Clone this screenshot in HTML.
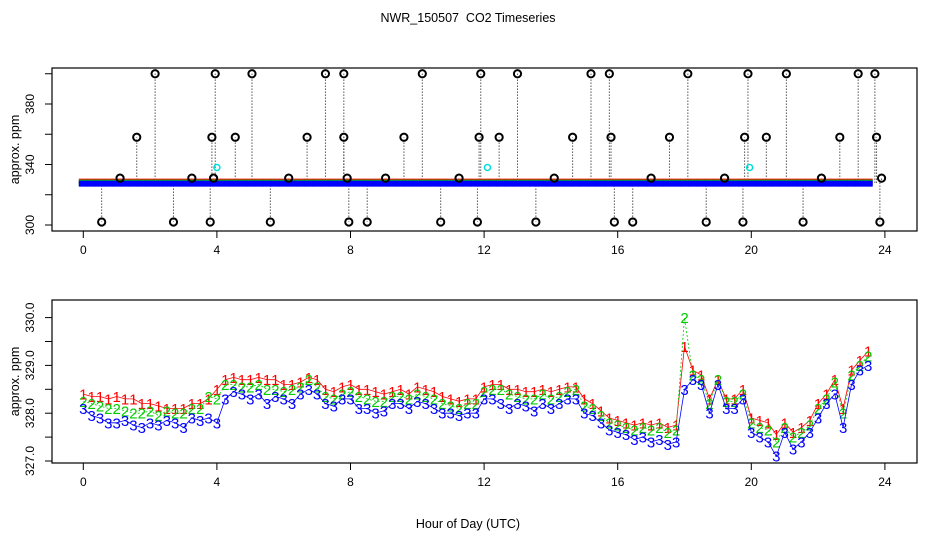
<!DOCTYPE html>
<html><head><meta charset="utf-8"><style>
body{margin:0;background:#fff}
svg{display:block;font-family:"Liberation Sans",sans-serif}
</style></head><body>
<svg id="c" width="936" height="540" xmlns="http://www.w3.org/2000/svg">
<text x="468" y="22" text-anchor="middle" font-size="12.5" style="white-space:pre">NWR_150507  CO2 Timeseries</text>
<text x="468" y="528" text-anchor="middle" font-size="12.5">Hour of Day (UTC)</text>
<g id="topPanel"></g>
<g id="botPanel"></g>
</svg>
<script>
const xTicks=[0,4,8,12,16,20,24];
const topYTickVals=[300,320,340,360,380,400];
const topYLabels=[300,340,380];
const botYTicks=[327,327.5,328,328.5,329,329.5,330];
const botYLabels=["327.0","328.0","329.0","330.0"];
const hours=[];for(let i=0;i<96;i++)hours.push(i*0.25);
const s3=[328.1,327.95,327.9,327.8,327.8,327.85,327.75,327.7,327.8,327.75,327.85,327.8,327.7,327.9,327.85,327.9,
327.8,328.3,328.45,328.4,328.3,328.4,328.2,328.35,328.3,328.2,328.4,328.5,328.4,328.2,328.15,328.3,
328.3,328.1,328.1,328.0,328.05,328.2,328.2,328.1,328.25,328.2,328.1,328.0,328.0,327.95,328.0,328.0,
328.3,328.3,328.2,328.1,328.2,328.15,328.05,328.2,328.1,328.2,328.3,328.3,328.0,327.95,327.8,327.65,
327.6,327.55,327.45,327.5,327.4,327.45,327.35,327.4,328.5,328.7,328.6,328.0,328.6,328.1,328.1,328.3,
327.6,327.5,327.4,327.1,327.6,327.25,327.4,327.6,327.9,328.2,328.4,327.7,328.6,328.9,329.0,null];
const s1=[328.4,328.35,328.35,328.3,328.35,328.3,328.3,328.2,328.2,328.15,328.1,328.1,328.1,328.2,328.2,328.3,
328.5,328.7,328.75,328.7,328.7,328.75,328.7,328.7,328.6,328.6,328.65,328.75,328.7,328.5,328.45,328.55,
328.6,328.5,328.5,328.45,328.4,328.45,328.5,328.4,328.55,328.5,328.45,328.35,328.3,328.25,328.3,328.3,
328.55,328.6,328.6,328.5,328.5,328.45,328.45,328.5,328.45,328.5,328.55,328.55,328.3,328.2,328.05,327.9,
327.85,327.8,327.75,327.8,327.75,327.8,327.7,327.75,329.4,328.9,328.8,328.3,328.7,328.3,328.3,328.5,
327.9,327.85,327.8,327.55,327.8,327.6,327.7,327.85,328.2,328.4,328.7,328.1,328.9,329.1,329.3,null];
const s2=[328.25,328.2,328.15,328.1,328.1,328.05,328.0,328.0,328.05,327.95,328.05,328.0,328.0,328.1,328.1,328.35,
328.3,328.6,328.6,328.55,328.55,328.6,328.5,328.5,328.45,328.5,328.55,328.7,328.55,328.35,328.3,328.4,
328.45,328.35,328.3,328.25,328.25,328.35,328.35,328.3,328.4,328.35,328.3,328.2,328.15,328.1,328.2,328.2,
328.45,328.5,328.5,328.4,328.35,328.3,328.3,328.4,328.3,328.35,328.45,328.5,328.15,328.1,327.95,327.8,
327.75,327.7,327.65,327.7,327.65,327.7,327.6,327.65,330.0,328.8,328.7,328.2,328.7,328.25,328.25,328.4,
327.8,327.7,327.65,327.4,327.7,327.5,327.6,327.75,328.1,328.3,328.65,328.0,328.8,329.0,329.2,null];
const spikeHours=[0.55,1.1,1.6,2.15,2.7,3.25,3.8,3.85,3.9,3.95,4.55,5.05,5.6,6.15,6.7,7.25,7.8,7.8,7.9,7.95,8.5,9.05,9.6,10.15,10.7,11.25,11.8,11.85,11.9,12.45,13.0,13.55,14.1,14.65,15.2,15.75,15.8,15.9,16.45,17.0,17.55,18.1,18.65,19.2,19.75,19.8,19.9,20.45,21.05,21.55,22.1,22.65,23.2,23.7,23.75,23.85,23.9];
const spikeVals=[302,331,358,400,302,331,302,358,331,400,358,400,302,331,358,400,400,358,331,302,302,331,358,400,302,331,302,358,400,358,400,302,331,358,400,400,358,302,302,331,358,400,302,331,302,358,400,358,400,302,331,358,400,400,358,302,331];
const cyanHours=[4.0,12.1,19.95];
const cyanVals=[338,338,338];

const NS="http://www.w3.org/2000/svg";
function mk(p,t,a){const e=document.createElementNS(NS,t);for(const k in a)e.setAttribute(k,a[k]);p.appendChild(e);return e;}
const L=52,R=917;
const xs=h=>83.3+h*33.4;
const ty=v=>225-(v-300)*1.5125;
const by=v=>461-(v-327)*47.8;
const topG=document.getElementById('topPanel'),botG=document.getElementById('botPanel');

function frame(g,T,B,name){
  const r=mk(g,'rect',{x:L,y:T,width:R-L,height:B-T,fill:'none',stroke:'#000','stroke-width':1.2});
  
  
  xTicks.forEach(h=>{
    const x=xs(h);
    const l=mk(g,'line',{x1:x,x2:x,y1:B,y2:B+7,stroke:'#000'});
    
    
    const t=mk(g,'text',{x:x,y:B+23,'text-anchor':'middle','font-size':12});
    t.textContent=h;
    
    
  });
  const at=mk(g,'text',{transform:`translate(19,${(T+B)/2}) rotate(-90)`,'text-anchor':'middle','font-size':12.5});
  at.textContent='approx. ppm';
  
  
}
// TOP
frame(topG,68,231,'top');
topYTickVals.forEach(v=>{
  const y=ty(v);
  const l=mk(topG,'line',{x1:L-7,x2:L,y1:y,y2:y,stroke:'#000'});
  
  
});
topYLabels.forEach(v=>{
  const t=mk(topG,'text',{transform:`translate(34,${ty(v)}) rotate(-90)`,'text-anchor':'middle','font-size':12});
  t.textContent=v;
  
  
});
spikeHours.forEach((h,i)=>{
  const x=xs(h),y=ty(spikeVals[i]);
  const l=mk(topG,'line',{x1:x,x2:x,y1:ty(328),y2:y,stroke:'#000','stroke-dasharray':'1,2'});
  
  
});
[[s1,'#f00',-1],[s2,'#0c0',0],[s3,'#00f',1]].forEach(([s,c,o])=>{
  s.forEach((v,i)=>{ if(v==null)return;
    const r=mk(topG,'rect',{x:xs(hours[i])-4.5,y:ty(328)-3+o,width:9,height:6,fill:c});
    
    
  });
});
spikeHours.forEach((h,i)=>{
  const c=mk(topG,'circle',{cx:xs(h),cy:ty(spikeVals[i]),r:3.6,fill:'none',stroke:'#000','stroke-width':2});
  
  
});
cyanHours.forEach((h,i)=>{
  const c=mk(topG,'circle',{cx:xs(h),cy:ty(cyanVals[i]),r:3,fill:'none',stroke:'#0dd','stroke-width':1.5});
  
  
});
// BOTTOM
frame(botG,300,463,'bottom');
botYTicks.forEach(v=>{
  const y=by(v);
  const l=mk(botG,'line',{x1:L-7,x2:L,y1:y,y2:y,stroke:'#000'});
  
  
});
botYLabels.forEach(v=>{
  const t=mk(botG,'text',{transform:`translate(34,${by(+v)}) rotate(-90)`,'text-anchor':'middle','font-size':12});
  t.textContent=v;
  
  
});
[[s1,'#f00','1'],[s2,'#0c0','2'],[s3,'#00f','3']].forEach(([s,c,ch])=>{
  let d='';
  s.forEach((v,i)=>{ if(v==null)return; d+=(d?'L':'M')+xs(hours[i]).toFixed(1)+','+by(v).toFixed(1);});
  const p=mk(botG,'path',{d:d,fill:'none',stroke:c,'stroke-width':0.8,'stroke-dasharray':ch==='2'?'2,2':'none'});
  
  
  s.forEach((v,i)=>{ if(v==null)return;
    const t=mk(botG,'text',{x:xs(hours[i]),y:by(v)+5.5,'text-anchor':'middle','font-size':15,fill:c});
    t.textContent=ch;
    
    
  });
});
</script>
</body></html>
